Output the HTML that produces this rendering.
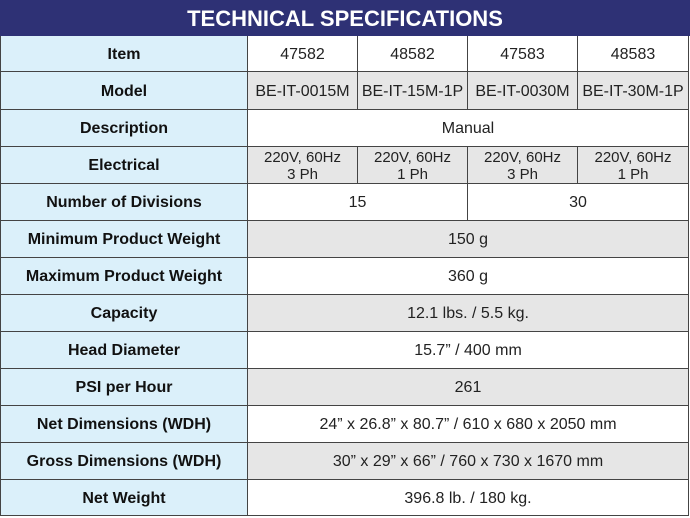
<!DOCTYPE html>
<html><head><style>
body{margin:0;width:690px;height:518px;background:#fff;font-family:"Liberation Sans",sans-serif;position:relative;overflow:hidden}
.t{position:absolute;left:0;top:0;width:690px;height:36px;background:#2e3175;color:#fff;font-weight:bold;font-size:22px;text-align:center;line-height:37px}
.c{position:absolute;box-sizing:border-box;border-right:1.5px solid #444;border-bottom:1.5px solid #444;display:flex;align-items:center;justify-content:center;text-align:center;font-size:16px;color:#222;line-height:17px;padding-top:1px}
.l{background:#dbf0fa;font-weight:bold;font-size:16px;border-left:1.5px solid #444;color:#111}
.g{background:#e6e6e6}
.w{background:#fff}
.s{font-size:15px;line-height:17px}
</style></head><body>
<div class="t">TECHNICAL SPECIFICATIONS</div>
<div id="tb"></div>
<script>
var rows=[36,72,110,147,184,221,258,295,332,369,406,443,480,516];
var cols=[0,248,358,468,578,689];
var data=[
["Item","w",["47582","48582","47583","48583"]],
["Model","g",["BE-IT-0015M","BE-IT-15M-1P","BE-IT-0030M","BE-IT-30M-1P"]],
["Description","w",[["Manual",4]]],
["Electrical","g",["220V, 60Hz<br>3 Ph","220V, 60Hz<br>1 Ph","220V, 60Hz<br>3 Ph","220V, 60Hz<br>1 Ph"]],
["Number of Divisions","w",[["15",2],["30",2]]],
["Minimum Product Weight","g",[["150 g",4]]],
["Maximum Product Weight","w",[["360 g",4]]],
["Capacity","g",[["12.1 lbs. / 5.5 kg.",4]]],
["Head Diameter","w",[["15.7” / 400 mm",4]]],
["PSI per Hour","g",[["261",4]]],
["Net Dimensions (WDH)","w",[["24” x 26.8” x 80.7” / 610 x 680 x 2050 mm",4]]],
["Gross Dimensions (WDH)","g",[["30” x 29” x 66” / 760 x 730 x 1670 mm",4]]],
["Net Weight","w",[["396.8 lb. / 180 kg.",4]]]];
var h="";
data.forEach(function(r,i){
 var y=rows[i],hh=rows[i+1]-y;
 h+='<div class="c l" style="left:0;top:'+y+'px;width:248px;height:'+hh+'px">'+r[0]+'</div>';
 var ci=1;
 r[2].forEach(function(c){
  var txt=typeof c=="string"?c:c[0],sp=typeof c=="string"?1:c[1];
  var x=cols[ci],w=cols[ci+sp]-x;ci+=sp;
  h+='<div class="c '+r[1]+(i==3?' s':'')+'" style="left:'+x+'px;top:'+y+'px;width:'+w+'px;height:'+hh+'px">'+txt+'</div>';
 });
});
document.getElementById("tb").innerHTML=h;
</script>
</body></html>
